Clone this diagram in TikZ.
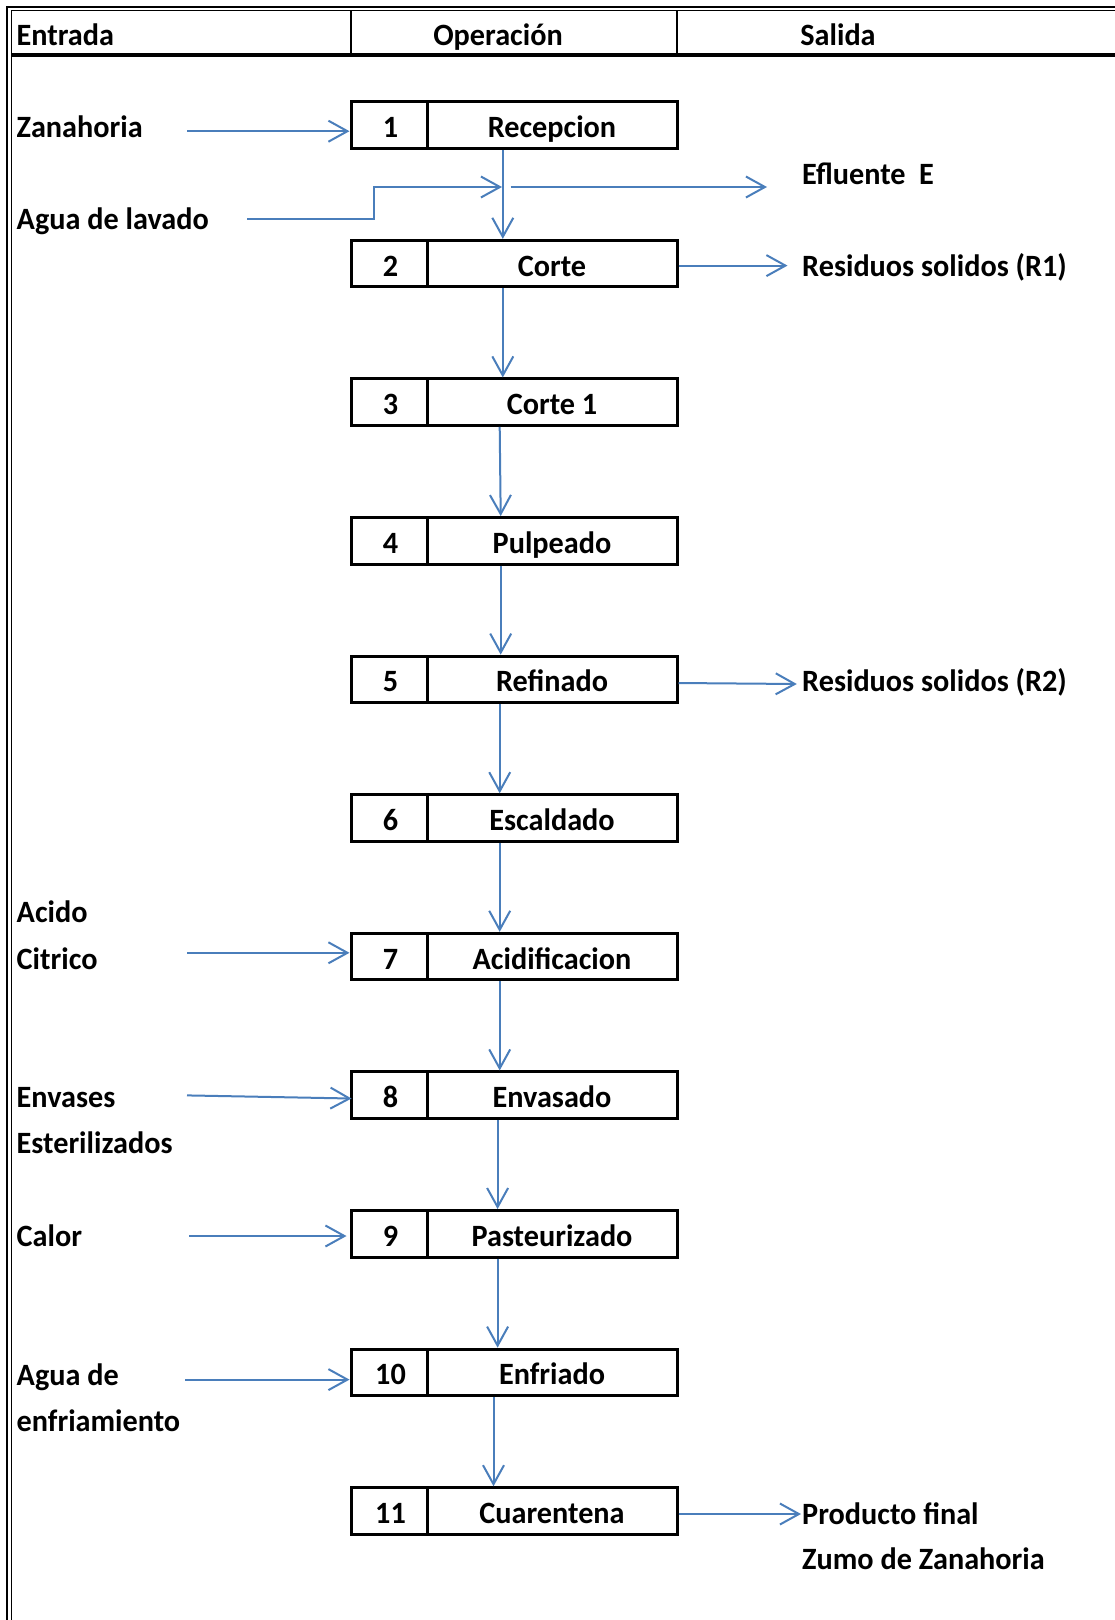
\documentclass[tikz,border=0pt]{standalone}
\usepackage{fontspec}
\setmainfont{Carlito}[FakeStretch=0.975]
\usetikzlibrary{arrows.meta,calc}
\definecolor{flowblue}{RGB}{74,126,187}
\begin{document}
\begin{tikzpicture}[x=1pt,y=-1pt,
  txt/.style={font=\bfseries\fontsize{31}{37}\selectfont, inner sep=0pt},
  lbl/.style={txt, anchor=base west},
  cell/.style={txt, draw, line width=3pt, minimum height=46.5pt, inner xsep=0pt, inner ysep=0pt, text height=24.8pt, text depth=0pt},
  numbox/.style={cell, minimum width=76pt},
  opbox/.style={cell, minimum width=250pt},
  flow/.style={draw=flowblue, line width=2pt, -{Straight Barb[length=19pt,width=21pt,line width=2pt]}}
]
\useasboundingbox (0,0) rectangle (1115,1620);
% frame and header
\draw[line width=2.5pt] (1115,7) -- (7,7) -- (7,1620);
\draw[line width=1pt] (1115,10.5) -- (11,10.5) -- (11,1620);
\draw[line width=3.5pt] (11,55) -- (1115,55);
\draw[line width=2pt] (351,11) -- (351,54);
\draw[line width=2pt] (677,11) -- (677,54);
\node[lbl] (h1) at (16.5,45) {Entrada};
\node[txt, anchor=base] (h2) at (498,45) {Operación};
\node[txt, anchor=base] (h3) at (838,45) {Salida};
% process boxes
\foreach \i/\t in {1/Recepcion,2/Corte,3/Corte 1,4/Pulpeado,5/Refinado,6/Escaldado,7/Acidificacion,8/Envasado,9/Pasteurizado,10/Enfriado,11/Cuarentena}{
  \pgfmathsetmacro\yy{125+(\i-1)*138.6}
  \node[numbox, text width=76pt, align=center] (n\i) at (389,\yy) {\hspace*{3pt}\i};
  \node[opbox] (b\i) at (552,\yy) {\t};
}
% vertical flow
\draw[flow] ($(b1.south west)+(77.3,0)$) -- ($(b2.north west)+(77.3,0)$);
\draw[flow] ($(b2.south west)+(77.3,0)$) -- ($(b3.north west)+(77.3,0)$);
\draw[flow] ($(b3.south west)+(74.2,0)$) -- ($(b4.north west)+(75.2,0)$);
\draw[flow] ($(b4.south west)+(75.2,0)$) -- ($(b5.north west)+(75.2,0)$);
\draw[flow] ($(b5.south west)+(74.2,0)$) -- ($(b6.north west)+(74.2,0)$);
\draw[flow] ($(b6.south west)+(74.2,0)$) -- ($(b7.north west)+(74.2,0)$);
\draw[flow] ($(b7.south west)+(74.2,0)$) -- ($(b8.north west)+(74.2,0)$);
\draw[flow] ($(b8.south west)+(72.1,0)$) -- ($(b9.north west)+(72.1,0)$);
\draw[flow] ($(b9.south west)+(72.1,0)$) -- ($(b10.north west)+(72.1,0)$);
\draw[flow] ($(b10.south west)+(68,0)$) -- ($(b11.north west)+(68,0)$);
% inputs
\node[lbl] (zan) at (16.5,137.4) {Zanahoria};
\node[lbl] (agua) at (16.5,229.4) {Agua de lavado};
\node[lbl] (acido) at (16.5,922.8) {Acido};
\node[lbl] (citrico) at (16.5,969.3) {Citrico};
\node[lbl] (envases) at (16.5,1107.8) {Envases};
\node[lbl] (ester) at (16.5,1153.3) {Esterilizados};
\node[lbl] (calor) at (16.5,1246.3) {Calor};
\node[lbl] (aguade) at (16.5,1385.8) {Agua de};
\node[lbl] (enfr) at (16.5,1431.3) {enfriamiento};
\coordinate (zs) at (187,131.2);
\coordinate (as) at (247,219);
\coordinate (ae) at (502,187);
\coordinate (es) at (510.5,187);
\coordinate (ee) at (767,187);
\coordinate (cs) at (187,952.8);
\coordinate (vs) at (187,1095.4);
\coordinate (ks) at (189,1236);
\coordinate (fs) at (185,1379.6);
\draw[flow] (zs) -- (n1.west |- zs);
\draw[flow] (as) -- (374,219) -- (374,187) -- (ae);
\draw[flow] (es) -- (ee);
\draw[flow] (cs) -- (n7.west |- cs);
\draw[flow] (vs) -- ($(n8.west)+(2,3.3)$);
\draw[flow, shorten >=3pt] (ks) -- (n9.west |- ks);
\draw[flow] (fs) -- (n10.west |- fs);
% outputs
\node[lbl] (efl) at (802,184) {Efluente\ \ E};
\node[lbl] (r1) at (802,276) {Residuos solidos (R1)};
\node[lbl] (r2) at (802,691.3) {Residuos solidos (R2)};
\node[lbl] (prod) at (802,1524.3) {Producto final};
\node[lbl] (zumo) at (802,1569.7) {Zumo de Zanahoria};
\coordinate (r1e) at (787.5,265.6);
\coordinate (r2e) at (796.8,684);
\coordinate (pe) at (801,1514);
\draw[flow] (b2.east |- r1e) -- (r1e);
\draw[flow] ($(b5.east)+(0,3.6)$) -- (r2e);
\draw[flow] (b11.east |- pe) -- (pe);
\end{tikzpicture}
\end{document}
